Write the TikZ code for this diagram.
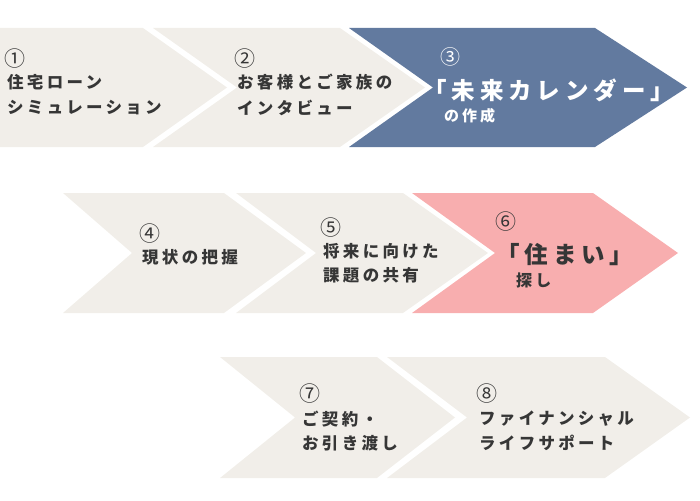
\documentclass[tikz,border=0pt]{standalone}
\usepackage{fontspec}
\setmainfont{Noto Sans CJK JP}
\newfontfamily\jp[LetterSpace=20]{Noto Sans CJK JP}
\newfontfamily\jpbig[LetterSpace=21]{Noto Sans CJK JP}
\newfontfamily\jpnum{Noto Sans CJK JP}
\definecolor{beige}{HTML}{F1EEE9}
\definecolor{slate}{HTML}{627A9F}
\definecolor{rose}{HTML}{F8AEAF}
\definecolor{ink}{HTML}{363636}
\tikzset{
  lbl/.style={anchor=west, inner sep=0pt, text=ink, font=\jp\bfseries\fontsize{16.5}{18}\selectfont},
  num/.style={anchor=west, inner sep=0pt, text=ink, font=\jpnum\fontsize{21}{22}\selectfont},
  big/.style={anchor=west, inner sep=0pt, text=ink, font=\jpbig\bfseries\fontsize{23.5}{25}\selectfont},
  small/.style={anchor=west, inner sep=0pt, text=ink, font=\jp\bfseries\fontsize{15}{17}\selectfont},
}
\begin{document}
\begin{tikzpicture}[x=1pt,y=-1pt]
\useasboundingbox (0,0) rectangle (700,500);
% row 1
\fill[beige] (0,28) -- (143,28) -- (227,87.5) -- (143,147) -- (0,147) -- cycle;
\fill[beige] (153,28) -- (340,28) -- (425,87.5) -- (340,147) -- (153,147) -- (237,87.5) -- cycle;
\fill[slate] (349,28) -- (595,28) -- (687,87.5) -- (595,147) -- (349,147) -- (433,87.5) -- cycle;
% row 2
\fill[beige] (63,193) -- (224,193) -- (306,253) -- (224,313) -- (63,313) -- (132,253) -- cycle;
\fill[beige] (236,193) -- (403,193) -- (488,253) -- (403,313) -- (236,313) -- (316,253) -- cycle;
\fill[rose] (412,193) -- (593,193) -- (678,253) -- (593,313) -- (412,313) -- (495,253) -- cycle;
% row 3
\fill[beige] (220,357) -- (377,357) -- (455,417.5) -- (377,478) -- (220,478) -- (295,417.5) -- cycle;
\fill[beige] (387,357) -- (605,357) -- (690,417.5) -- (605,478) -- (387,478) -- (467,417.5) -- cycle;
% texts
\node[num] (n1) at (4,59) {①};
\node[lbl] (t1a) at (7,82) {住宅ローン};
\node[lbl] (t1b) at (7,108) {シミュレーション};
\node[num] (n2) at (234,59) {②};
\node[lbl] (t2a) at (237,82) {お客様とご家族の};
\node[lbl] (t2b) at (237,108) {インタビュー};
\node[num, text=white, font=\jpnum\fontsize{20}{22}\selectfont] (n3) at (440,57) {③};
\node[big, text=white] (t3a) at (423,90) {「未来カレンダー」};
\node[small, text=white] (t3b) at (444,116) {の作成};
\node[num] (n4) at (139,234) {④};
\node[lbl] (t4a) at (142,257) {現状の把握};
\node[num] (n5) at (320,228) {⑤};
\node[lbl] (t5a) at (323,251) {将来に向けた};
\node[lbl] (t5b) at (323,275) {課題の共有};
\node[num] (n6) at (495,222) {⑥};
\node[big] (t6a) at (496,255) {「住まい」};
\node[small, font=\jp\bfseries\fontsize{16}{17}\selectfont] (t6b) at (516,280) {探し};
\node[num] (n7) at (299,394) {⑦};
\node[lbl] (t7a) at (302,419) {ご契約・};
\node[lbl] (t7b) at (302,443) {お引き渡し};
\node[num] (n8) at (476,394) {⑧};
\node[lbl] (t8a) at (479,419) {ファイナンシャル};
\node[lbl] (t8b) at (479,443) {ライフサポート};
\end{tikzpicture}
\end{document}
